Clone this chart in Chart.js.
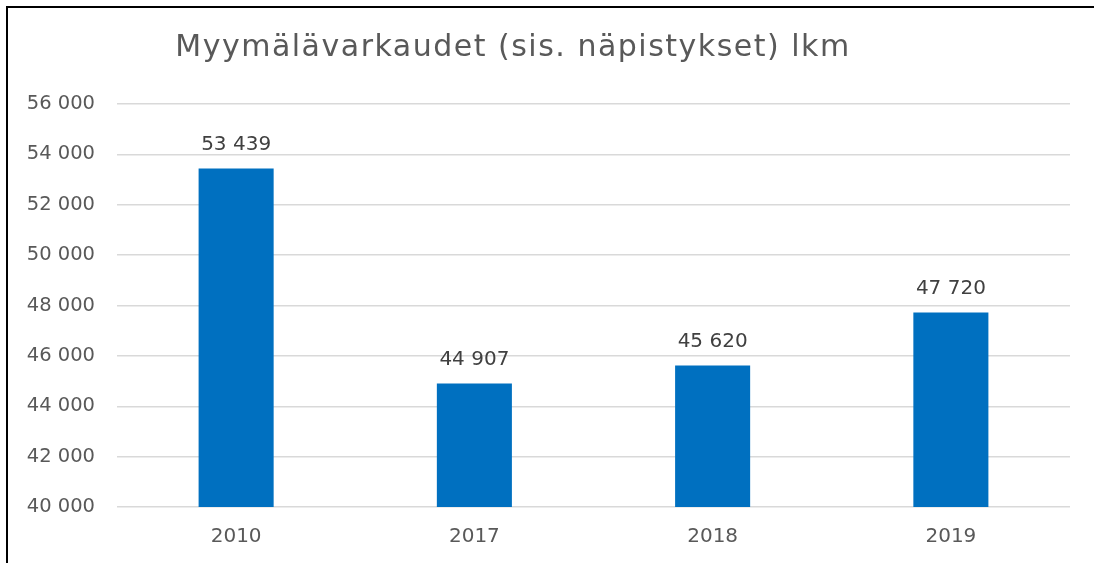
<!DOCTYPE html>
<html>
<head>
<meta charset="utf-8">
<script src="https://cdn.jsdelivr.net/npm/chart.js@4/dist/chart.umd.min.js"></script>
<style>
  html, body { margin: 0; padding: 0; background: #fff; overflow: hidden; }
  #frame { position: absolute; left: 6px; top: 6px; border-left: 2px solid #000; border-top: 2px solid #000; width: 1086px; height: 555px; }
  canvas { display: block; }
</style>
</head>
<body>
<div id="frame"><canvas id="c" width="1086" height="555"></canvas></div>
<script>
const titleText = 'Myymälävarkaudet (sis. näpistykset) lkm';
const categories = ['2010', '2017', '2018', '2019'];
const values = [53439, 44907, 45620, 47720];
const yMin = 40000, yMax = 56000, yStep = 2000;

const fmt = n => String(n).replace(/\B(?=(\d{3})+(?!\d))/g, ' ');
const FONT = 'DejaVu Sans';

const overlay = {
  id: 'overlay',
  afterDatasetsDraw(chart) {
    const ctx = chart.ctx;
    ctx.save();
    // title
    ctx.font = '30px "' + FONT + '"';
    ctx.fillStyle = '#595959';
    ctx.textAlign = 'center';
    ctx.textBaseline = 'alphabetic';
    try { ctx.letterSpacing = '1.5px'; } catch (e) {}
    ctx.fillText(titleText, 505, 47.5);
    try { ctx.letterSpacing = '0px'; } catch (e) {}
    // data labels
    ctx.font = '20px "' + FONT + '"';
    ctx.fillStyle = '#404040';
    const meta = chart.getDatasetMeta(0);
    meta.data.forEach((bar, i) => {
      ctx.fillText(fmt(chart.data.datasets[0].data[i]), bar.x, bar.y - 18.5);
    });
    ctx.restore();
  }
};

new Chart(document.getElementById('c'), {
  type: 'bar',
  data: {
    labels: categories,
    datasets: [{
      data: values,
      backgroundColor: '#0070C0',
      borderWidth: 0,
      categoryPercentage: 1,
      barPercentage: 0.315
    }]
  },
  options: {
    responsive: false,
    animation: false,
    devicePixelRatio: 1,
    layout: { padding: { top: 96, right: 24, left: 0, bottom: 0 } },
    plugins: { legend: { display: false }, title: { display: false }, tooltip: { enabled: false } },
    scales: {
      x: {
        grid: { display: false },
        border: { display: false },
        ticks: { color: '#595959', font: { family: FONT, size: 20 }, padding: 10 },
        afterFit: s => { s.height = 56; }
      },
      y: {
        min: yMin, max: yMax,
        grid: { color: '#d9d9d9', lineWidth: 1.5, drawTicks: false },
        border: { display: false },
        ticks: { stepSize: yStep, color: '#595959', font: { family: FONT, size: 19.5 }, padding: 22, callback: v => fmt(v) },
        afterFit: s => { s.width = 109; }
      }
    }
  },
  plugins: [overlay]
});
</script>
</body>
</html>
